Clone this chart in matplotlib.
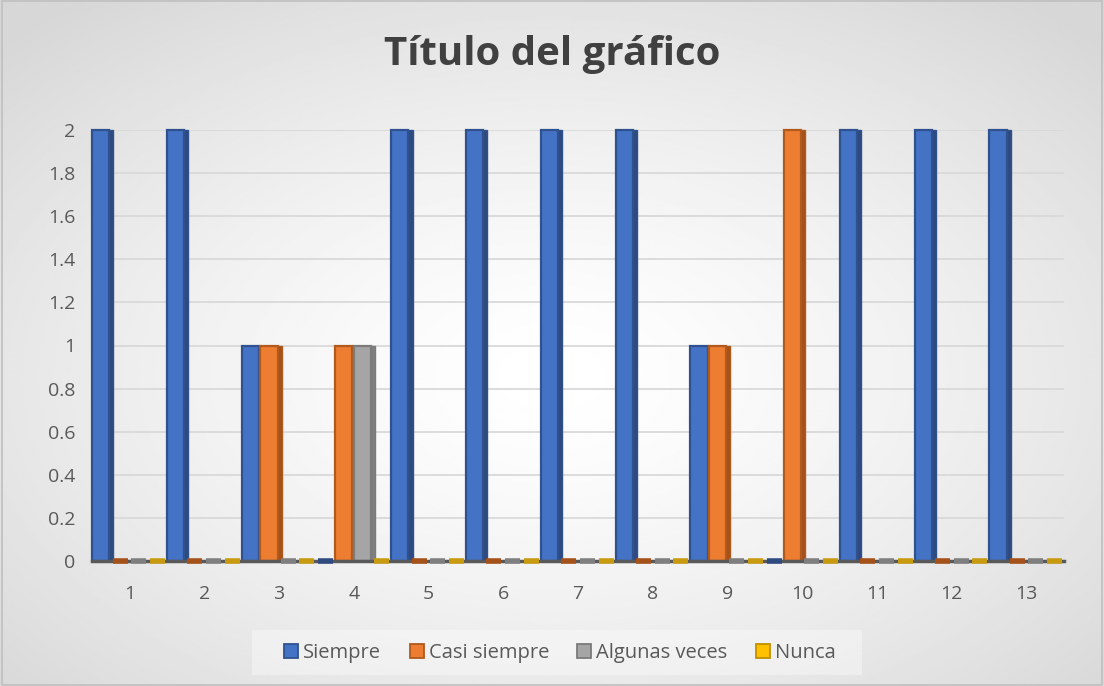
import numpy as np
import matplotlib.pyplot as plt
from matplotlib.patches import Patch

# data
categorias = ['1', '2', '3', '4', '5', '6', '7', '8', '9', '10', '11', '12', '13']
siempre = [2, 2, 1, 0, 2, 2, 2, 2, 1, 0, 2, 2, 2]
casi_siempre = [0, 0, 1, 1, 0, 0, 0, 0, 1, 2, 0, 0, 0]
algunas_veces = [0, 0, 0, 1, 0, 0, 0, 0, 0, 0, 0, 0, 0]
nunca = [0, 0, 0, 0, 0, 0, 0, 0, 0, 0, 0, 0, 0]

series = [siempre, casi_siempre, algunas_veces, nunca]
nombres = ['Siempre', 'Casi siempre', 'Algunas veces', 'Nunca']
colores = ['#4472C4', '#ED7D31', '#A5A5A5', '#FFC000']
bordes = ['#2F528F', '#B05A1E', '#7B7B7B', '#BF9000']
lados = ['#2E4A7E', '#A4511A', '#7F7F7F', '#C89A10']

plt.rcParams['font.family'] = ['Open Sans', 'DejaVu Sans']

fig = plt.figure(figsize=(11.04, 6.86), dpi=100)

# radial gradient background
bg = fig.add_axes([0, 0, 1, 1], zorder=-10)
yy, xx = np.mgrid[0:1:300j, 0:1:480j]
r = np.sqrt(((xx - 0.5) / 0.75) ** 2 + ((yy - 0.55) / 0.75) ** 2)
shade = 1.0 - 0.16 * np.clip(r / 0.94, 0, 1) ** 1.4
bg.imshow(shade, cmap='gray', vmin=0, vmax=1, aspect='auto', extent=[0, 1, 0, 1])
bg.set_xlim(0, 1)
bg.set_ylim(0, 1)
bg.axis('off')
bg.add_patch(plt.Rectangle((0.0015, 0.002), 0.997, 0.996, fill=False,
                           edgecolor='#bfbfbf', lw=1.2, transform=bg.transAxes))
# legend backdrop
bg.add_patch(plt.Rectangle((252 / 1104, 1 - 675 / 686), 610 / 1104, 45 / 686,
                           facecolor='white', alpha=0.35, edgecolor='none'))

ax = fig.add_axes([92 / 1104, 125 / 686, 972 / 1104, 431 / 686])
ax.set_facecolor('none')

x = np.arange(len(categorias))
w = 0.25
for i, vals in enumerate(series):
    vals = np.array(vals)
    pos = x + (i - 1.5) * w
    alto = vals > 0
    # darker side face for a bit of depth
    ax.bar(pos[alto] + w * 0.5, vals[alto], width=w * 0.3, color=lados[i],
           edgecolor=bordes[i], linewidth=1.0, zorder=2, clip_on=False)
    ax.bar(pos[alto] - w * 0.03, vals[alto], width=w * 0.92, color=colores[i],
           edgecolor=bordes[i], linewidth=1.6, zorder=3, clip_on=False)
    # empty values lie flat on the floor
    ax.bar(pos[~alto], vals[~alto], width=w * 0.8, color=colores[i],
           edgecolor=lados[i], linewidth=4, zorder=5, clip_on=False)

ax.set_xlim(-0.5, len(categorias) - 0.5)
ax.set_ylim(0, 2)
ax.set_yticks(np.arange(0, 2.01, 0.2))
ax.set_yticklabels(['0', '0.2', '0.4', '0.6', '0.8', '1', '1.2', '1.4', '1.6', '1.8', '2'])
ax.set_xticks(x)
ax.set_xticklabels(categorias)
ax.yaxis.grid(True, color='#d9d9d9', linewidth=1.3, zorder=0)
ax.set_axisbelow(True)
for s in ['top', 'right', 'left']:
    ax.spines[s].set_visible(False)
ax.spines['bottom'].set_color('#595959')
ax.spines['bottom'].set_linewidth(2.5)
ax.spines['bottom'].set_zorder(4)
ax.tick_params(axis='both', length=0, labelsize=14, colors='#595959')
ax.tick_params(axis='x', pad=17)
ax.tick_params(axis='y', pad=12)

fig.text(0.5, 1 - 55 / 686, 'Título del gráfico', ha='center', va='center',
         fontsize=29, fontweight='bold', color='#404040')

handles = [Patch(facecolor=colores[i], edgecolor=bordes[i], linewidth=1.3, label=nombres[i])
           for i in range(4)]
fig.legend(handles=handles, loc='center', bbox_to_anchor=(560 / 1104, 1 - 653 / 686),
           ncol=4, frameon=False, fontsize=14.5, labelcolor='#595959',
           handlelength=0.7, handleheight=0.7, handletextpad=0.25, columnspacing=1.4)

fig.savefig('out.png', dpi=100)
